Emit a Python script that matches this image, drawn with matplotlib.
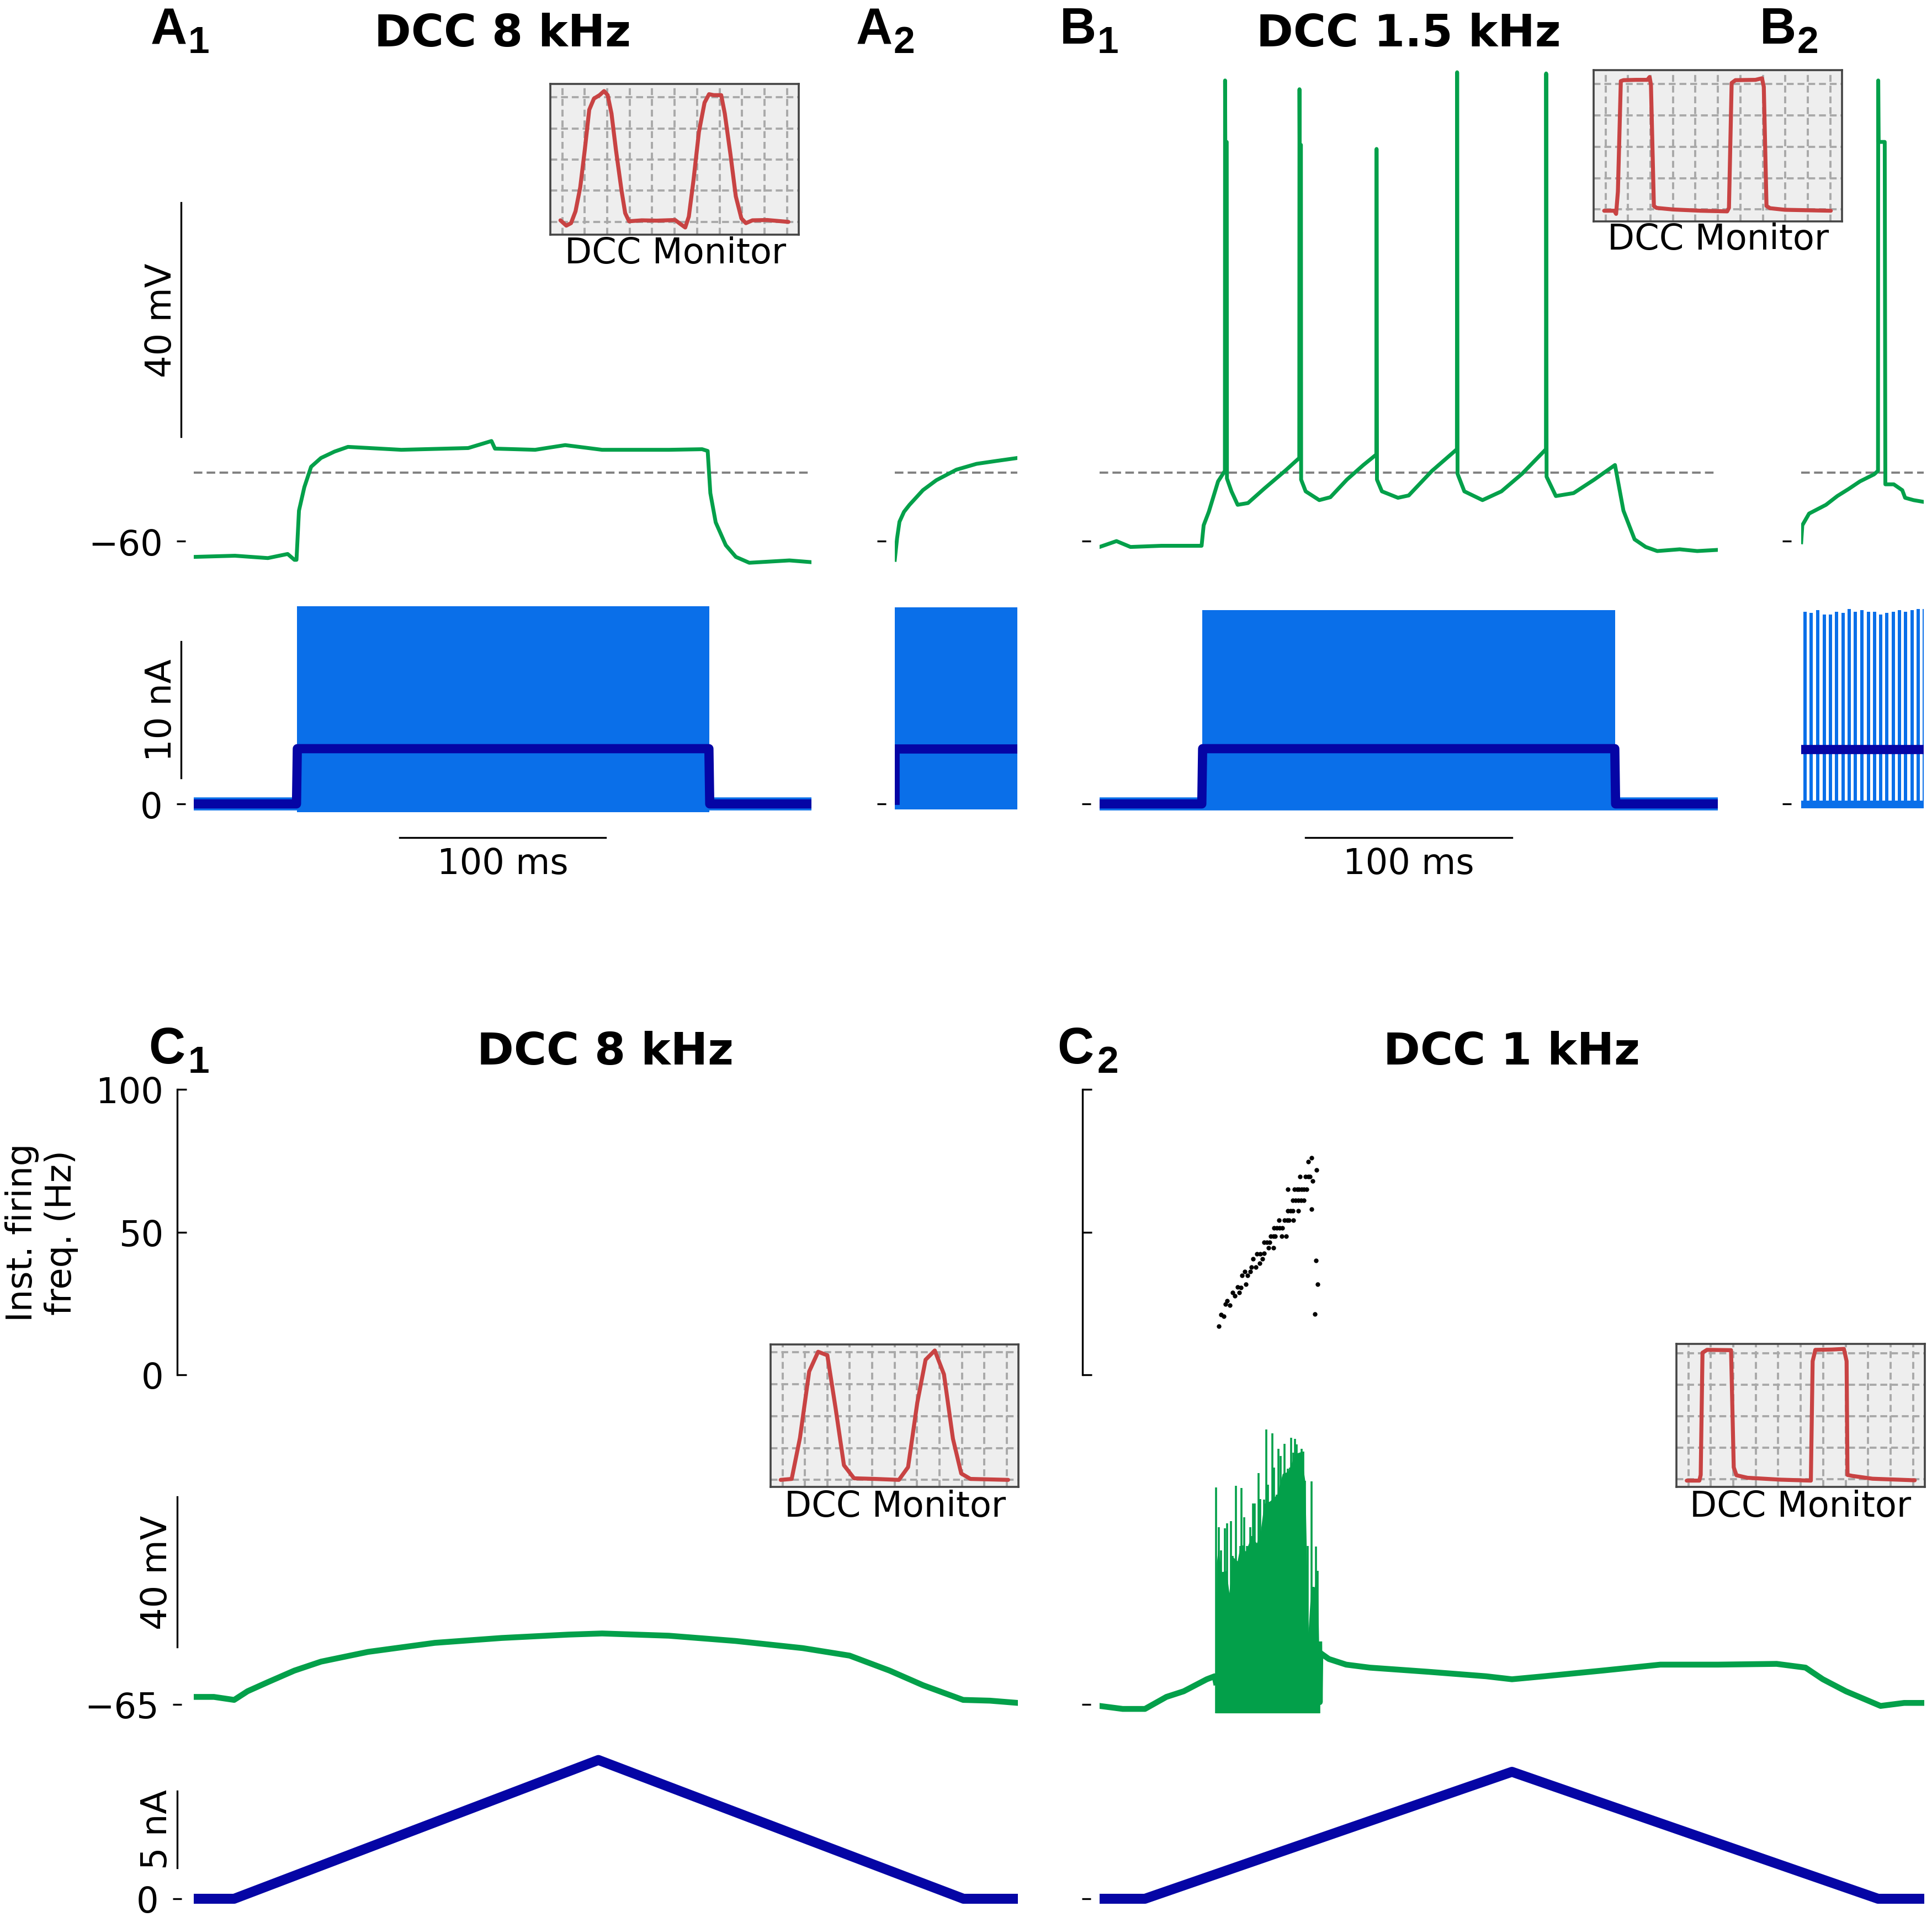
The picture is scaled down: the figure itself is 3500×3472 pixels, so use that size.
import matplotlib
matplotlib.use('Agg')
import matplotlib.pyplot as plt

# ---------------- data ----------------
# A1: DCC 8 kHz step (time in ms, mV / nA)
a1_t = [0, 20, 36, 45.6, 48.9, 49.9, 51.1, 53.7, 57.0, 61.8, 68.4, 74.9, 100.8, 133.3, 144.6, 146.3,
        165.8, 180.4, 198.3, 230.8, 246.9, 249.6, 250.9, 253.5, 258.4, 263.3, 269.8, 279.6, 289.3, 300]
a1_v = [-62.7, -62.5, -62.9, -62.2, -63.2, -63.2, -54.8, -50.8, -47.3, -45.8, -44.7, -43.9, -44.4, -44.1, -42.9, -44.2,
        -44.4, -43.6, -44.4, -44.4, -44.3, -44.6, -51.8, -56.8, -60.7, -62.7, -63.7, -63.5, -63.3, -63.6]
a1_cmd_t = [0, 49.9, 50.3, 250.2, 250.6, 300]
a1_cmd_i = [0, 0, 4.05, 4.05, 0, 0]
a1_band_t = [50.0, 250.5]
a1_band_lo = [-0.6, -0.6]
a1_band_hi = [14.5, 14.5]

# A2: zoom on pulse onset
a2_t = [49.0, 49.3, 49.61, 50.2, 50.92, 52.67, 54.42, 57.04, 59.67, 62.29, 65.0]
a2_v = [-63.2, -59.5, -56.7, -55.0, -53.8, -51.3, -49.6, -47.8, -46.8, -46.3, -45.8]
a2_cmd_t = [49.0, 49.0, 65.0]
a2_cmd_i = [0.3, 4.05, 4.05]
a2_band_t = [49.0, 65.0]
a2_band_lo = [-0.4, -0.4]
a2_band_hi = [14.4, 14.4]

# B1: DCC 1.5 kHz step
b1_t = [0, 8.2, 15, 30, 49.5, 50.5, 53.0, 57.5, 60.8, 60.9, 61.0, 61.7, 61.8, 64.0, 67.0, 72.0, 80.0, 90.0,
        96.9, 97.0, 97.1, 97.7, 97.8, 100.0, 106.6, 112.0, 120.0, 128.0, 134.3, 134.4, 134.6, 137.0, 144.8,
        150.0, 161.3, 173.4, 173.5, 173.7, 177.0, 185.8, 195.0, 205.0, 216.6, 216.7, 216.9, 221.4, 230.0,
        240.0, 250.1, 254.2, 259.6, 265.0, 270.6, 281.5, 290.0, 300.0]
b1_v = [-61.0, -60.0, -61.0, -60.8, -60.8, -57.3, -55.0, -49.8, -48.0, 18.7, 8.2, 8.2, -49.3, -51.5, -53.8, -53.5, -51.0, -48.0,
        -45.8, 17.2, 7.7, 7.7, -49.5, -51.5, -53.0, -52.5, -49.5, -47.0, -45.2, 7.0, -49.5, -51.5, -52.6,
        -52.2, -48.0, -44.3, 20.1, -48.5, -51.5, -53.0, -51.5, -48.5, -44.3, 19.9, -49.0, -52.3, -51.8,
        -49.5, -47.0, -54.8, -59.7, -61.0, -61.7, -61.4, -61.7, -61.5]
b1_cmd_t = [0, 49.6, 50.0, 250.0, 250.4, 300]
b1_cmd_i = [0, 0, 4.05, 4.05, 0, 0]
b1_band_t = [49.7, 250.1]
b1_band_lo = [-0.4, -0.4]
b1_band_hi = [14.2, 14.2]

# B2: zoom on first spike
b2_t = [49.0, 49.15, 50.03, 52.24, 53.72, 55.19, 56.67, 58.51, 59.03, 59.06, 59.12, 59.91, 59.99,
        61.09, 62.20, 62.57, 63.67, 65.0]
b2_v = [-60.2, -57.3, -55.3, -53.8, -52.3, -51.1, -49.8, -48.6, -48.0, 18.7, 8.2, 8.2, -50.3,
        -50.3, -51.3, -52.6, -53.0, -53.3]
b2_pulse_t = [49.29, 50.08, 50.95, 51.81, 52.60, 53.40, 54.26, 55.05, 55.85, 56.71,
              57.58, 58.37, 59.16, 59.95, 60.82, 61.61, 62.41, 63.27, 64.06, 64.86]
b2_pulse_top = [14.1, 14.0, 14.2, 13.9, 13.9, 14.1, 14.0, 14.3, 14.1, 14.2,
                14.1, 14.1, 13.9, 14.0, 14.1, 14.2, 14.1, 14.2, 14.3, 14.3]
b2_cmd_t = [49.0, 65.0]
b2_cmd_i = [4.0, 4.0]

# Threshold (dashed line), mV
thr_v = -48.3

# C1: DCC 8 kHz triangular ramp (time in s)
c1_t = [0, 0.244, 0.49, 0.652, 0.896, 1.22, 1.545, 2.116, 2.924, 3.736, 4.548, 4.954, 5.765,
        6.576, 7.388, 7.958, 8.444, 8.850, 9.336, 9.661, 10.0]
c1_v = [-63.0, -63.0, -63.8, -61.5, -59.1, -56.0, -53.6, -51.0, -48.6, -47.3, -46.4, -46.1, -46.7,
        -48.1, -50.0, -52.0, -56.0, -59.9, -63.8, -64.0, -64.6]
c1_cmd_t = [0, 0.49, 4.91, 9.34, 10.0]
c1_cmd_i = [0, 0, 9.04, 0, 0]

# C2: DCC 1 kHz triangular ramp
c2_pre_t = [0.0, 0.28, 0.55, 0.81, 1.02, 1.16, 1.30, 1.395, 1.41]
c2_pre_v = [-65.4, -66.2, -66.2, -63.0, -61.5, -59.9, -58.3, -57.5, -59.1]
c2_post_t = [2.664, 2.670, 2.677, 2.78, 2.99, 3.276, 3.98, 4.685, 5.0, 5.39, 6.09, 6.80, 7.50,
             8.21, 8.56, 8.77, 9.05, 9.47, 9.756, 10.0]
c2_post_v = [-49.0, -64.4, -51.3, -52.9, -54.4, -55.2, -56.3, -57.5, -58.3, -57.5, -56.0, -54.4, -54.4,
             -54.2, -55.2, -58.3, -61.5, -65.4, -64.6, -64.6]
burst_t = [1.410, 1.448, 1.470, 1.499, 1.522, 1.544, 1.566, 1.593, 1.615, 1.631, 1.653, 1.671, 1.693,
           1.705, 1.722, 1.738, 1.754, 1.772, 1.787, 1.805, 1.827, 1.850, 1.861, 1.879, 1.901, 1.928,
           1.946, 1.972, 1.995, 2.021, 2.044, 2.066, 2.079, 2.095, 2.117, 2.140, 2.151, 2.169, 2.195,
           2.218, 2.240, 2.258, 2.285, 2.307, 2.325, 2.347, 2.367, 2.392, 2.407, 2.425, 2.448, 2.470,
           2.492, 2.526, 2.548, 2.570, 2.593, 2.624, 2.646, 2.664]
burst_peak = [-7.2, -17.8, -23.9, -29.7, -18.1, -16.7, -35.5, -16.2, -25.5, -29.4, -6.7, -38.7, -27.1,
              -22.8, -7.3, -22.6, -15.2, -28.4, -22.8, -25.0, -17.8, -20.2, -11.4, -11.4, -22.3, -3.4,
              -10.3, -19.3, -10.4, 8.2, -6.4, -18.6, -11.3, 7.2, -1.9, -19.4, -9.1, 3.1, 1.2,
              -9.9, 4.4, -4.0, -2.2, -1.9, 6.1, 2.0, 5.8, 4.2, 1.8, -5.1, 3.1, 2.3,
              -5.4, -22.8, -46.1, -5.6, -33.7, -23.0, -29.4, -49.0]
burst_floor = -67.3
env_t = [1.410, 1.419, 1.437, 1.481, 1.537, 1.571, 1.615, 1.671, 1.705, 1.772, 1.838, 1.905, 1.950,
         1.995, 2.062, 2.151, 2.218, 2.285, 2.374, 2.441, 2.492, 2.508, 2.530, 2.564, 2.608, 2.642,
         2.659, 2.668]
env_v = [-59.1, -27.3, -23.6, -29.7, -29.4, -35.3, -25.7, -26.8, -22.8, -24.2, -20.4, -22.0, -19.1,
         -11.5, -10.9, -9.1, -3.5, -3.0, 1.8, 2.3, -5.6, -22.8, -45.8, -33.7, -33.7, -29.4,
         -49.0, -64.4]
c2_cmd_t = [0, 0.55, 5.0, 9.44, 10.0]
c2_cmd_i = [0, 0, 8.27, 0, 0]

# C2 instantaneous firing frequency (s, Hz)
sc_t = [1.448, 1.470, 1.504, 1.526, 1.548, 1.582, 1.615, 1.638, 1.671, 1.693, 1.716, 1.727, 1.760, 1.771,
        1.794, 1.827, 1.838, 1.861, 1.894, 1.905, 1.939, 1.950, 1.972, 1.995, 1.995, 2.028, 2.050, 2.061,
        2.073, 2.106, 2.106, 2.128, 2.117, 2.151, 2.173, 2.184, 2.206, 2.218, 2.240, 2.262, 2.273, 2.296,
        2.285, 2.285, 2.318, 2.340, 2.351, 2.340, 2.363, 2.374, 2.407, 2.407, 2.418, 2.430, 2.441, 2.452,
        2.474, 2.474, 2.497, 2.508, 2.530, 2.530, 2.552, 2.568, 2.586, 2.570, 2.630, 2.624, 2.642, 2.608, 2.396]
sc_f = [17.1, 21.0, 20.5, 24.7, 26.0, 24.4, 28.8, 27.6, 30.8, 28.8, 30.6, 34.9, 36.2, 31.7,
        34.9, 36.2, 37.8, 40.7, 37.8, 42.3, 39.1, 42.3, 40.7, 42.5, 46.4, 46.4, 44.5, 46.4,
        48.6, 48.6, 44.5, 48.6, 51.4, 51.4, 54.2, 51.4, 48.6, 51.4, 54.2, 48.6, 54.2, 54.2,
        65.0, 57.4, 57.4, 57.4, 54.2, 61.2, 65.0, 61.2, 61.2, 57.4, 65.0, 69.5, 61.2, 65.0,
        61.2, 65.0, 69.5, 65.0, 69.5, 74.7, 69.5, 76.0, 67.9, 58.1, 71.7, 40.0, 31.8, 21.3, 65.0]

# DCC monitor insets (grid units)
mon_a_x = [-0.08, 0.18, 0.39, 0.59, 0.80, 1.0, 1.20, 1.41, 1.66, 1.86, 2.02, 2.19, 2.39, 2.64, 2.80, 2.97,
           3.54, 4.20, 5.02, 5.26, 5.47, 5.63, 5.84, 6.08, 6.33, 6.53, 6.74, 7.07, 7.23, 7.48, 7.72,
           7.97, 8.17, 8.46, 9.11, 10.06]
mon_a_y = [0.05, -0.12, -0.04, 0.34, 1.11, 2.30, 3.60, 3.96, 4.07, 4.20, 4.07, 3.48, 2.30, 0.99, 0.28, 0.02,
           0.05, 0.04, 0.06, -0.07, -0.18, 0.17, 1.35, 2.89, 3.83, 4.10, 4.07, 4.07, 3.48, 2.18, 0.82,
           0.11, -0.04, 0.05, 0.06, 0.0]
mon_b_x = [-0.06, 0.39, 0.47, 0.55, 0.68, 0.80, 1.37, 1.86, 1.96, 2.02, 2.15, 2.27, 3.0, 4.23, 5.41, 5.49,
           5.61, 5.78, 6.67, 6.96, 7.04, 7.16, 7.32, 7.98, 10.02]
mon_b_y = [-0.04, -0.04, -0.14, 0.57, 4.09, 4.12, 4.13, 4.13, 4.22, 3.97, 0.11, 0.05, 0.0, -0.04, -0.06, 0.05,
           4.03, 4.12, 4.13, 4.18, 3.91, 0.11, 0.04, -0.01, -0.04]
mon_c1_x = [-0.08, 0.41, 0.78, 1.19, 1.59, 2.00, 2.37, 2.74, 3.19, 4.13, 5.19, 5.60, 6.01, 6.38, 6.79,
            7.20, 7.60, 7.97, 8.38, 10.06]
mon_c1_y = [0.0, 0.03, 1.32, 3.40, 4.02, 3.91, 2.24, 0.46, 0.05, 0.03, 0.0, 0.40, 2.42, 3.77, 4.06,
            3.31, 1.29, 0.20, 0.03, 0.0]
mon_c2_x = [-0.07, 0.49, 0.55, 0.63, 0.83, 1.90, 2.02, 2.14, 2.63, 4.10, 5.45, 5.53, 5.65, 6.39, 6.92,
            7.04, 7.08, 7.29, 8.19, 10.07]
mon_c2_y = [-0.05, -0.05, 0.13, 4.02, 4.11, 4.10, 0.37, 0.12, 0.04, -0.02, -0.05, 3.75, 4.11, 4.12, 4.14,
            3.75, 0.13, 0.10, 0.01, -0.04]

# ---------------- styling ----------------
GREEN = '#03a04a'
LBLUE = '#0a6fe9'
DBLUE = '#0505a5'
RED = '#c84343'
GRAY = '#808080'
FS = 23

W, H, DPI = 3500, 3473, 200
fig = plt.figure(figsize=(W / DPI, H / DPI), dpi=DPI)
plt.rcParams['font.family'] = ['DejaVu Sans']


def box(x0, x1, y0, y1):
    return [x0 / W, 1 - y1 / H, (x1 - x0) / W, (y1 - y0) / H]


def fx(x):
    return x / W


def fy(y):
    return 1 - y / H


def trace_axes(rect, xlim, ylim, ticks, labels, bounds=None, direction='inout', offset=8.3):
    ax = fig.add_axes(rect)
    ax.set_xlim(*xlim)
    ax.set_ylim(*ylim)
    ax.patch.set_alpha(0)
    for s in ['top', 'right', 'bottom']:
        ax.spines[s].set_visible(False)
    ax.spines['left'].set_position(('outward', offset))
    ax.spines['left'].set_linewidth(1.2)
    if bounds is None:
        ax.spines['left'].set_visible(False)
    else:
        ax.spines['left'].set_bounds(*bounds)
    ax.set_xticks([])
    ax.set_yticks(ticks)
    ax.set_yticklabels(labels)
    ax.tick_params(axis='y', direction=direction, length=6, width=1.2, pad=9, labelsize=FS)
    return ax


def inset(rect, ylim, xs, ys, label_x, label_base):
    ax = fig.add_axes(rect)
    ax.set_facecolor('#eeeeee')
    ax.set_xlim(-0.53, 10.52)
    ax.set_ylim(*ylim)
    ax.set_xticks(range(11))
    ax.set_yticks(range(5))
    ax.tick_params(length=0, labelbottom=False, labelleft=False)
    ax.grid(True, color='#a9a9a9', ls=(0, (3.2, 1.8)), lw=1.4)
    for s in ax.spines.values():
        s.set_color('#444444')
        s.set_linewidth(1.3)
    ax.plot(xs, ys, color=RED, lw=2.6, solid_joinstyle='round', solid_capstyle='round')
    fig.text(fx(label_x), fy(label_base), 'DCC Monitor', ha='center', va='baseline', fontsize=FS)
    return ax


def vlabel(x_base, y_center, s):
    fig.text(fx(x_base), fy(y_center), s, rotation=90, rotation_mode='anchor',
             ha='center', va='baseline', fontsize=FS)


def panel(letter, sub, x_letter, x_sub, base):
    fig.text(fx(x_letter), fy(base), letter, ha='left', va='baseline', fontsize=33,
             fontweight='bold', family=['Liberation Sans', 'DejaVu Sans'])
    fig.text(fx(x_sub), fy(base + 17), sub, ha='left', va='baseline', fontsize=25,
             fontweight='bold', family=['Liberation Sans', 'DejaVu Sans'])


# ---------------- top row ----------------
VLIM_TOP = (-67.45, 23.11)
ILIM_TOP = (-1.74, 15.26)
V_BOUNDS = (-42.2, -2.2)
I_BOUNDS = (1.9, 11.9)

# A1
axA1v = trace_axes(box(351, 1470, 100, 1060), (0, 300), VLIM_TOP, [-60], ['\u221260'], V_BOUNDS)
axA1v.axhline(thr_v, color=GRAY, ls=(0, (4, 2)), lw=1.4)
axA1v.plot(a1_t, a1_v, color=GREEN, lw=2.5)
axA1i = trace_axes(box(351, 1470, 1080, 1500), (0, 300), ILIM_TOP, [0], ['0'], I_BOUNDS)
axA1i.plot([0, 300], [0, 0], color=LBLUE, lw=8.5)
axA1i.fill_between(a1_band_t, a1_band_lo, a1_band_hi, color=LBLUE, lw=0)
axA1i.plot(a1_cmd_t, a1_cmd_i, color=DBLUE, lw=6, solid_joinstyle='round')
axA1i.plot([100, 200], [-2.47, -2.47], color='k', lw=1.2, clip_on=False)
axA1i.text(150, -5.1, '100 ms', ha='center', va='baseline', fontsize=FS, clip_on=False)

# A2
axA2v = trace_axes(box(1621, 1843, 100, 1060), (49, 65), VLIM_TOP, [-60], [''], None, offset=8.8)
axA2v.axhline(thr_v, color=GRAY, ls=(0, (4, 2)), lw=1.4)
axA2v.plot(a2_t, a2_v, color=GREEN, lw=2.5)
axA2i = trace_axes(box(1621, 1843, 1080, 1500), (49, 65), ILIM_TOP, [0], [''], None, offset=8.8)
axA2i.fill_between(a2_band_t, a2_band_lo, a2_band_hi, color=LBLUE, lw=0)
axA2i.plot(a2_cmd_t, a2_cmd_i, color=DBLUE, lw=6, solid_joinstyle='round')

# B1
axB1v = trace_axes(box(1992, 3112, 100, 1060), (0, 300), VLIM_TOP, [-60], [''], None, offset=8.6)
axB1v.axhline(thr_v, color=GRAY, ls=(0, (4, 2)), lw=1.4)
axB1v.plot(b1_t, b1_v, color=GREEN, lw=2.5)
axB1i = trace_axes(box(1992, 3112, 1080, 1500), (0, 300), ILIM_TOP, [0], [''], None, offset=8.6)
axB1i.plot([0, 300], [0, 0], color=LBLUE, lw=8.5)
axB1i.fill_between(b1_band_t, b1_band_lo, b1_band_hi, color=LBLUE, lw=0)
axB1i.plot(b1_cmd_t, b1_cmd_i, color=DBLUE, lw=6, solid_joinstyle='round')
axB1i.plot([100, 200], [-2.47, -2.47], color='k', lw=1.2, clip_on=False)
axB1i.text(150, -5.1, '100 ms', ha='center', va='baseline', fontsize=FS, clip_on=False)

# B2
axB2v = trace_axes(box(3263, 3485, 100, 1060), (49, 65), VLIM_TOP, [-60], [''], None, offset=9.5)
axB2v.axhline(thr_v, color=GRAY, ls=(0, (4, 2)), lw=1.4)
axB2v.plot(b2_t, b2_v, color=GREEN, lw=2.5)
axB2i = trace_axes(box(3263, 3485, 1080, 1500), (49, 65), ILIM_TOP, [0], [''], None, offset=9.5)
axB2i.plot([49, 65], [-0.05, -0.05], color=LBLUE, lw=5)
axB2i.bar(b2_pulse_t, [h + 0.3 for h in b2_pulse_top], width=0.42, bottom=-0.3, align='edge',
          color=LBLUE, lw=0)
axB2i.plot(b2_cmd_t, b2_cmd_i, color=DBLUE, lw=6)

# y scale-bar labels (top row)
vlabel(310, 580, '40 mV')
vlabel(310, 1286, '10 nA')

# titles and panel labels (top row)
fig.text(fx(910), fy(84), 'DCC 8 kHz', ha='center', va='baseline', fontsize=29, fontweight='bold')
fig.text(fx(2552), fy(84), 'DCC 1.5 kHz', ha='center', va='baseline', fontsize=29, fontweight='bold')
panel('A', '1', 273, 341, 79)
panel('A', '2', 1551, 1619, 79)
panel('B', '1', 1920, 1988, 79)
panel('B', '2', 3188, 3256, 79)

# insets (top row)
inset(box(997, 1447, 153, 426), (-0.41, 4.43), mon_a_x, mon_a_y, 1224, 477)
inset(box(2887, 3337, 128, 402), (-0.38, 4.44), mon_b_x, mon_b_y, 3113, 452)

# ---------------- bottom row ----------------
FLIM = (0, 100)
VLIM_C = (-71.18, 12.65)
ILIM_C = (-1.08, 10.43)

# C1
axC1f = trace_axes(box(351, 1844, 1974, 2491), (0, 10), FLIM, [0, 50, 100], ['0', '50', '100'],
                   (0, 100), direction='in', offset=10.8)
axC1v = trace_axes(box(351, 1844, 2560, 3130), (0, 10), VLIM_C, [-65], ['\u221265'], (-49.7, -9.7),
                   offset=10.8)
axC1v.plot(c1_t, c1_v, color=GREEN, lw=3.8)
axC1i = trace_axes(box(351, 1844, 3150, 3470), (0, 10), ILIM_C, [0], ['0'], (2.0, 7.0), offset=10.8)
axC1i.plot(c1_cmd_t, c1_cmd_i, color=DBLUE, lw=6.5, solid_joinstyle='round', solid_capstyle='round')

# C2
axC2f = trace_axes(box(1992, 3486, 1974, 2491), (0, 10), FLIM, [0, 50, 100], ['', '', ''],
                   (0, 100), direction='in', offset=11.3)
axC2f.scatter(sc_t, sc_f, s=9, color='k', lw=0)
axC2v = trace_axes(box(1992, 3486, 2560, 3130), (0, 10), VLIM_C, [-65], [''], None, offset=8.6)
axC2v.plot(c2_pre_t, c2_pre_v, color=GREEN, lw=3.8)
axC2v.plot(c2_post_t, c2_post_v, color=GREEN, lw=3.8)
axC2v.fill_between(env_t, burst_floor, env_v, color=GREEN, lw=0)
axC2v.vlines(burst_t, burst_floor, burst_peak, color=GREEN, lw=1.3)
axC2i = trace_axes(box(1992, 3486, 3150, 3470), (0, 10), ILIM_C, [0], [''], None, offset=8.6)
axC2i.plot(c2_cmd_t, c2_cmd_i, color=DBLUE, lw=6.5, solid_joinstyle='round', solid_capstyle='round')

# labels bottom row
vlabel(302, 2848, '40 mV')
vlabel(302, 3314, '5 nA')
vlabel(58, 2232, 'Inst. firing')
vlabel(129, 2232, 'freq. (Hz)')
fig.text(fx(1097), fy(1928), 'DCC 8 kHz', ha='center', va='baseline', fontsize=29, fontweight='bold')
fig.text(fx(2739), fy(1928), 'DCC 1 kHz', ha='center', va='baseline', fontsize=29, fontweight='bold')
panel('C', '1', 269, 341, 1926)
panel('C', '2', 1915, 1988, 1926)

inset(box(1396, 1845, 2436, 2694), (-0.22, 4.25), mon_c1_x, mon_c1_y, 1622, 2747)
inset(box(3037, 3487, 2435, 2694), (-0.25, 4.3), mon_c2_x, mon_c2_y, 3262, 2747)

fig.savefig('out.png', dpi=DPI)
